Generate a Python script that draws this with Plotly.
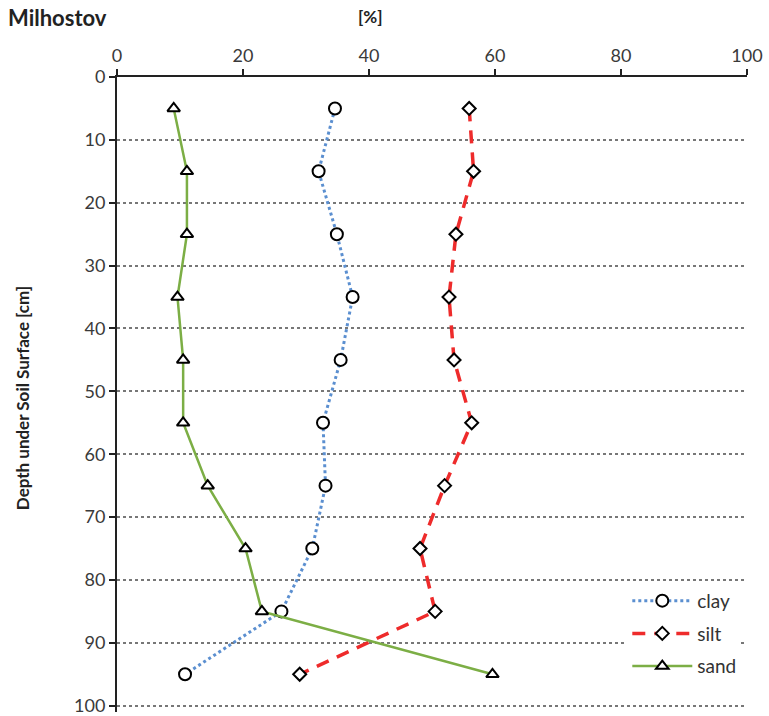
import plotly.graph_objects as go

depth = [5, 15, 25, 35, 45, 55, 65, 75, 85, 95]
clay = [34.6, 32.0, 34.9, 37.4, 35.5, 32.7, 33.1, 31.0, 26.1, 10.8]
silt = [55.9, 56.6, 53.8, 52.7, 53.5, 56.3, 52.0, 48.1, 50.5, 29.0]
sand = [9.0, 11.1, 11.1, 9.6, 10.5, 10.5, 14.4, 20.4, 23.0, 59.6]

x_ticks = [0, 20, 40, 60, 80, 100]
y_ticks = [0, 10, 20, 30, 40, 50, 60, 70, 80, 90, 100]

FONT = "Lato"

fig = go.Figure()
fig.add_trace(go.Scatter(
    x=clay, y=depth, name="clay", mode="lines+markers", legendgroup="a",
    line=dict(color="#5b8fd0", width=3, dash="dot"),
    marker=dict(symbol="circle", size=12, color="white", line=dict(color="black", width=2)),
))
fig.add_trace(go.Scatter(
    x=silt, y=depth, name="silt", mode="lines+markers", legendgroup="b",
    line=dict(color="#ee2b2b", width=3.5, dash="13px,9px"),
    marker=dict(symbol="diamond", size=10, color="white", line=dict(color="black", width=2)),
))
fig.add_trace(go.Scatter(
    x=sand, y=depth, name="sand", mode="lines+markers", legendgroup="c",
    line=dict(color="#7cae45", width=2.5),
    marker=dict(symbol="triangle-up", size=11, color="white", line=dict(color="black", width=2)),
))

fig.update_layout(
    width=769, height=716,
    margin=dict(l=117, r=22, t=77, b=4),
    paper_bgcolor="white", plot_bgcolor="white",
    font=dict(family=FONT, size=18, color="#333"),
    showlegend=True,
    legend=dict(
        x=0.81, y=0.205, xanchor="left", yanchor="top",
        bgcolor="white", borderwidth=0,
        font=dict(family=FONT, size=19, color="#333"),
        itemwidth=60, tracegroupgap=5, traceorder="grouped",
    ),
    xaxis=dict(
        side="top", range=[0, 100], tickvals=x_ticks, automargin=False,
        showline=True, linecolor="#222", linewidth=2,
        ticks="outside", ticklen=6, tickcolor="#222", tickwidth=2,
        showgrid=False, zeroline=False,
        tickfont=dict(family=FONT, size=18, color="#3a3a3a"),
    ),
    yaxis=dict(
        range=[101, 0], tickvals=y_ticks, automargin=False,
        ticklabeloverflow="allow",
        showline=True, linecolor="#222", linewidth=2,
        ticks="outside", ticklen=6, tickcolor="#222", tickwidth=2,
        showgrid=True, gridcolor="#777", griddash="3px,3px", gridwidth=1.5,
        zeroline=False,
        tickfont=dict(family=FONT, size=18, color="#3a3a3a"),
    ),
    shapes=[
        dict(type="line", xref="paper", yref="y", x0=0, x1=1,
             y0=y_ticks[-1], y1=y_ticks[-1], layer="below",
             line=dict(color="#777", width=1.5, dash="3px,3px")),
    ],
    annotations=[
        dict(text="<b>Milhostov</b>", xref="paper", yref="paper",
             x=-0.176, y=1.094, xanchor="left", yanchor="middle", showarrow=False,
             font=dict(family=FONT, size=22, color="#222")),
        dict(text="<b>[%]</b>", xref="paper", yref="paper",
             x=0.4016, y=1.096, xanchor="center", yanchor="middle", showarrow=False,
             font=dict(family=FONT, size=17, color="#222")),
        dict(text="<b>Depth under Soil Surface [cm]</b>", xref="paper", yref="paper",
             x=-0.151, y=0.494, xanchor="center", yanchor="middle", showarrow=False,
             textangle=-90, font=dict(family=FONT, size=17, color="#222")),
    ],
)

fig.write_html("out.html")
